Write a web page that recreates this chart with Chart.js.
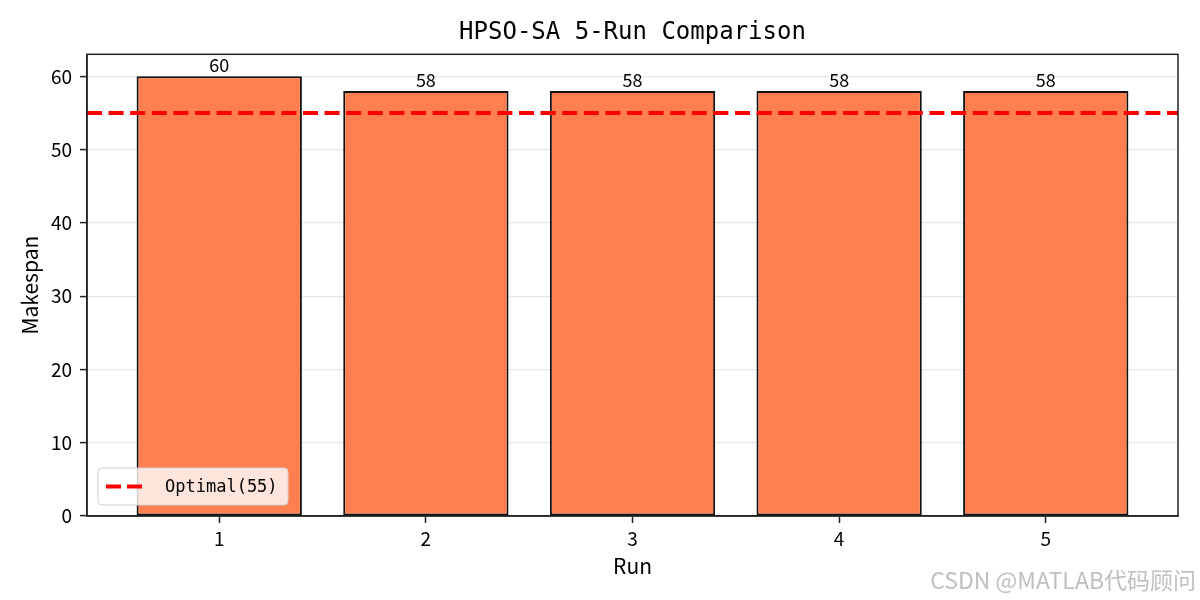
<!DOCTYPE html>
<html>
<head>
<meta charset="utf-8">
<script src="https://cdn.jsdelivr.net/npm/chart.js@4.4.0/dist/chart.umd.min.js"></script>
<style>
  html, body { margin: 0; padding: 0; background: #fff; }
  #wrap { width: 1200px; height: 600px; }
</style>
</head>
<body>
<div id="wrap"><canvas id="runChart" width="1200" height="600"></canvas></div>
<script>
// Data
const runs = [1, 2, 3, 4, 5];
const makespan = [60, 58, 58, 58, 58];
const optimal = 55;
const yTicks = [0, 10, 20, 30, 40, 50, 60];

// Axis limits (matplotlib style margins)
const xMin = 0.36, xMax = 5.64;
const yMax = 63;

const monoFont = "'DejaVu Sans Mono', monospace";
const sansFont = "'Noto Sans CJK SC', 'Noto Sans', sans-serif";

// Value labels above bars, top/right spines, legend, watermark
const extrasPlugin = {
    id: 'extras',
    afterLayout(chart) {
        // center the title over the plot area, like matplotlib does
        if (chart.titleBlock) {
            chart.titleBlock.left = chart.chartArea.left;
            chart.titleBlock.right = chart.chartArea.right;
        }
    },
    afterDatasetsDraw(chart) {
        const ctx = chart.ctx;
        const meta = chart.getDatasetMeta(0);
        ctx.save();
        ctx.font = '18px ' + sansFont;
        ctx.fillStyle = '#000';
        ctx.textAlign = 'center';
        ctx.textBaseline = 'bottom';
        meta.data.forEach((bar, i) => {
            ctx.fillText(String(makespan[i]), bar.x, bar.y - 2);
        });
        ctx.restore();
    },
    afterDraw(chart) {
        const ctx = chart.ctx;
        const area = chart.chartArea;
        ctx.save();
        // frame
        ctx.strokeStyle = '#222';
        ctx.lineWidth = 1.5;
        ctx.strokeRect(area.left, area.top, area.right - area.left, area.bottom - area.top);

        // legend box
        const lx = area.left + 11, ly = area.bottom - 48, lw = 190, lh = 37;
        ctx.beginPath();
        ctx.roundRect(lx, ly, lw, lh, 4);
        ctx.fillStyle = 'rgba(255,255,255,0.8)';
        ctx.fill();
        ctx.strokeStyle = '#d0d0d0';
        ctx.lineWidth = 1;
        ctx.stroke();
        ctx.beginPath();
        ctx.setLineDash([15, 6]);
        ctx.strokeStyle = '#ff0000';
        ctx.lineWidth = 4;
        ctx.moveTo(lx + 8, ly + lh / 2);
        ctx.lineTo(lx + 45, ly + lh / 2);
        ctx.stroke();
        ctx.setLineDash([]);
        ctx.fillStyle = '#000';
        ctx.font = '17px ' + monoFont;
        ctx.textAlign = 'left';
        ctx.textBaseline = 'middle';
        ctx.fillText('Optimal(' + optimal + ')', lx + 67, ly + lh / 2 + 1);

        // watermark
        ctx.font = '23px ' + sansFont;
        ctx.textAlign = 'right';
        ctx.textBaseline = 'middle';
        ctx.fillStyle = 'rgba(170,170,170,0.75)';
        ctx.fillText('CSDN @MATLAB代码顾问', 1196, 580);
        ctx.restore();
    }
};

const ctx = document.getElementById('runChart').getContext('2d');
const runChart = new Chart(ctx, {
    data: {
        datasets: [{
            type: 'bar',
            label: 'Makespan',
            data: runs.map((r, i) => ({ x: r, y: makespan[i] })),
            backgroundColor: '#ff7f50',
            borderColor: '#111',
            borderWidth: 2,
            borderSkipped: false,
            barPercentage: 0.8,
            categoryPercentage: 1.0,
            order: 2
        }, {
            type: 'line',
            label: 'Optimal(' + optimal + ')',
            data: [{ x: xMin, y: optimal }, { x: xMax, y: optimal }],
            borderColor: '#ff0000',
            borderWidth: 4,
            borderDash: [15, 6.6],
            pointRadius: 0,
            fill: false,
            order: 1
        }]
    },
    options: {
        responsive: false,
        animation: false,
        devicePixelRatio: 1,
        layout: { padding: { left: 0, right: 22, top: 0, bottom: 0 } },
        plugins: {
            legend: { display: false },
            tooltip: { enabled: false },
            title: {
                display: true,
                text: 'HPSO-SA 5-Run Comparison',
                color: '#000',
                font: { family: monoFont, size: 24, weight: 'normal' },
                padding: { top: 18.6, bottom: 6.9 }
            }
        },
        scales: {
            x: {
                type: 'linear',
                offset: false,
                min: xMin,
                max: xMax,
                afterBuildTicks: scale => { scale.ticks = runs.map(v => ({ value: v })); },
                afterFit: scale => { scale.height = 84; },
                grid: { offset: false, drawOnChartArea: false, drawTicks: true, tickLength: 7, tickColor: '#222', tickWidth: 1.5 },
                border: { color: '#222', width: 1.5 },
                ticks: {
                    color: '#000',
                    padding: 4,
                    font: { family: sansFont, size: 19 },
                    callback: v => String(v)
                },
                title: {
                    display: true,
                    text: 'Run',
                    color: '#000',
                    font: { family: sansFont, size: 21 },
                    padding: { top: 0, bottom: 21 }
                }
            },
            y: {
                min: 0,
                max: yMax,
                afterBuildTicks: scale => { scale.ticks = yTicks.map(v => ({ value: v })); },
                afterFit: scale => { scale.width = 87; },
                grid: { color: '#e7e7e7', lineWidth: 1.2, tickLength: 7, tickColor: '#222', tickWidth: 1.5 },
                border: { color: '#222', width: 1.5 },
                ticks: {
                    color: '#000',
                    padding: 8,
                    font: { family: sansFont, size: 19 }
                },
                title: {
                    display: true,
                    text: 'Makespan',
                    color: '#000',
                    font: { family: sansFont, size: 21 },
                    padding: { top: 17, bottom: 0 }
                }
            }
        }
    },
    plugins: [extrasPlugin]
});
</script>
</body>
</html>
